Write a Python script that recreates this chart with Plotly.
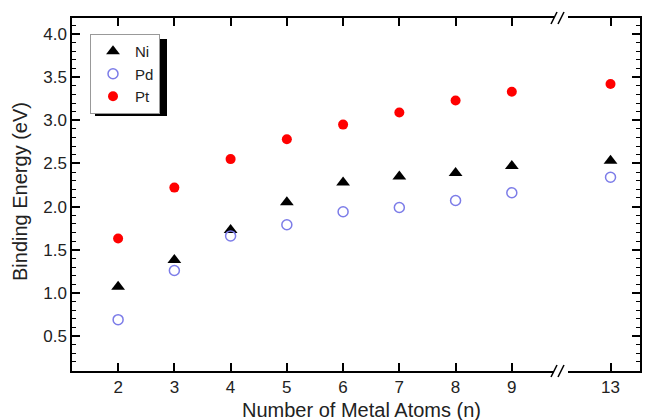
import plotly.graph_objects as go

# ---------------- data ----------------
n_atoms = [2, 3, 4, 5, 6, 7, 8, 9, 13]
ni = [1.07, 1.38, 1.73, 2.05, 2.28, 2.35, 2.39, 2.47, 2.53]
pd_ = [0.69, 1.26, 1.66, 1.79, 1.94, 1.99, 2.07, 2.16, 2.34]
pt = [1.63, 2.22, 2.55, 2.78, 2.95, 3.09, 3.23, 3.33, 3.42]
left_ticks = [2, 3, 4, 5, 6, 7, 8, 9]
right_ticks = [13]
y_ticks = [0.5, 1.0, 1.5, 2.0, 2.5, 3.0, 3.5, 4.0]

W, H = 645, 420
L, R, T, B = 72, 640, 18, 371
FONT = "Liberation Sans, Arial, sans-serif"
TXT = "#222222"

def px(xp):
    return (xp - L) / (R - L)

def py(yp):
    return (B - yp) / (B - T)

series = [
    ("Ni", ni, dict(symbol="triangle-up", size=12, color="black")),
    ("Pd", pd_, dict(symbol="circle-open", size=10, color="#7c7ce8", line=dict(width=1.5, color="#7c7ce8"))),
    ("Pt", pt, dict(symbol="circle", size=10, color="#ff0000")),
]

fig = go.Figure()
for name, vals, mk in series:
    xl = [n for n in n_atoms if n <= 9]
    yl = [v for n, v in zip(n_atoms, vals) if n <= 9]
    xr = [n for n in n_atoms if n > 9]
    yr = [v for n, v in zip(n_atoms, vals) if n > 9]
    fig.add_trace(go.Scatter(x=xl, y=yl, mode="markers", name=name, marker=mk,
                             xaxis="x", yaxis="y"))
    fig.add_trace(go.Scatter(x=xr, y=yr, mode="markers", name=name, marker=mk,
                             showlegend=False, xaxis="x2", yaxis="y2"))

d1 = px(554)
d2 = px(568)

axcommon = dict(showgrid=False, zeroline=False, showline=True, linecolor="black",
                linewidth=1.5, ticks="inside", ticklen=8, tickwidth=1.5,
                tickcolor="black", tickfont=dict(family=FONT, size=17, color=TXT))

fig.update_layout(
    width=W, height=H,
    margin=dict(l=L, r=W - R, t=T, b=H - B, pad=0),
    paper_bgcolor="white", plot_bgcolor="white",
    showlegend=True,
    xaxis=dict(domain=[0, d1], range=[1.18, 9.75], tickvals=left_ticks,
               mirror="ticks", anchor="y", **axcommon),
    xaxis2=dict(domain=[d2, 1], range=[12.25, 13.52], tickvals=right_ticks,
                mirror="ticks", anchor="y2", **axcommon),
    yaxis=dict(domain=[0, 1], range=[0.095, 4.185], tickvals=y_ticks, tickformat=".1f",
               anchor="x", minor=dict(ticks="inside", ticklen=4, dtick=0.1, tickcolor="black", tickwidth=1),
               **axcommon),
    yaxis2=dict(domain=[0, 1], matches="y", anchor="x2", side="right", showticklabels=False,
                tickvals=y_ticks,
                minor=dict(ticks="inside", ticklen=4, dtick=0.1, tickcolor="black", tickwidth=1),
                **axcommon),
    legend=dict(x=px(90), y=py(34), xanchor="left", yanchor="top",
                bgcolor="white", bordercolor="#999999", borderwidth=1,
                font=dict(family=FONT, size=15, color=TXT), tracegroupgap=0,
                itemwidth=34),
)

# axis titles
fig.add_annotation(text="Number of Metal Atoms (n)", xref="paper", yref="paper",
                   x=px(361), y=py(410), xanchor="center", yanchor="middle", showarrow=False,
                   font=dict(family=FONT, size=20, color=TXT))
fig.add_annotation(text="Binding Energy (eV)", xref="paper", yref="paper",
                   x=px(20), y=py(192), xanchor="center", yanchor="middle", showarrow=False,
                   textangle=-90, font=dict(family=FONT, size=20, color=TXT))

# legend shadow
fig.add_shape(type="rect", xref="paper", yref="paper",
              x0=px(95), x1=px(167), y0=py(116), y1=py(39),
              fillcolor="black", line=dict(width=0), layer="above")

# axis break marks
for ybase in (B, T):
    for off in (0, 7):
        fig.add_shape(type="line", xref="paper", yref="paper",
                      x0=px(551 + off), y0=py(ybase + 6), x1=px(557 + off), y1=py(ybase - 6),
                      line=dict(color="black", width=1.5))

fig.write_html("out.html")
